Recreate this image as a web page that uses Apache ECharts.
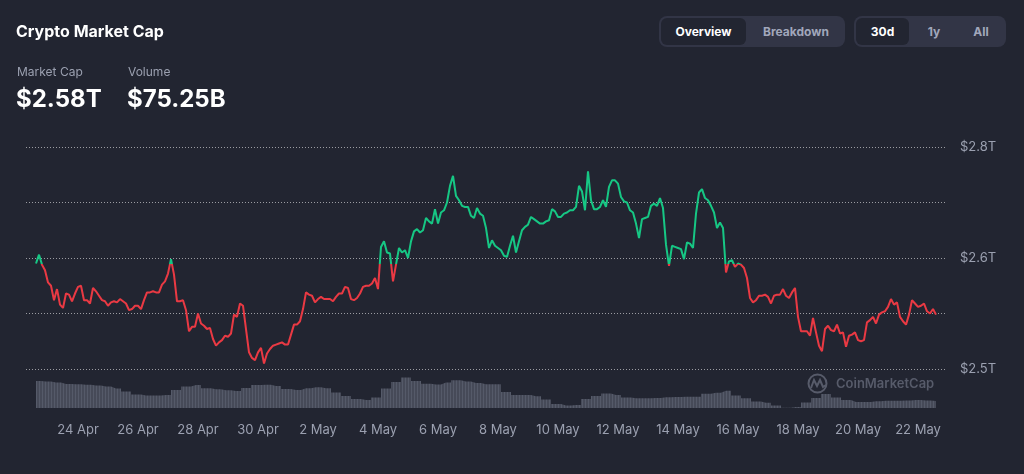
<!DOCTYPE html>
<html>
<head>
<meta charset="utf-8">
<script src="https://cdn.jsdelivr.net/npm/echarts@6/dist/echarts.min.js"></script>
<style>
  html, body { margin:0; padding:0; background:#222531; }
  #wrap { position:relative; width:1024px; height:474px; overflow:hidden; font-family:Inter, "Noto Sans", sans-serif; }
  #chart { position:absolute; left:0; top:0; width:1024px; height:474px; }
  .ov { position:absolute; z-index:2; white-space:nowrap; }
  .title { left:16px; top:21px; font-size:16px; font-weight:700; color:#fff; line-height:20px; }
  .lbl { top:64px; font-size:12px; color:#9ba0b0; line-height:15px; }
  .big { top:85px; font-size:24px; font-weight:700; color:#fff; line-height:28px; }
  .seg { position:absolute; z-index:2; top:16px; height:31px; background:#323546; border-radius:8px; }
  .btn { position:absolute; top:2px; height:27px; line-height:27px; text-align:center; font-size:12px; font-weight:700; color:#a1a7bb; border-radius:6px; }
  .btn.on { background:#222531; color:#fff; }
</style>
</head>
<body>
<div id="wrap">
  <div id="chart"></div>
  <div class="ov title">Crypto Market Cap</div>
  <div class="ov lbl" style="left:17px">Market Cap</div>
  <div class="ov lbl" style="left:128px">Volume</div>
  <div class="ov big" style="left:16px">$2.58T</div>
  <div class="ov big" style="left:127px">$75.25B</div>
  <div class="seg" style="left:659px; width:186px;">
    <div class="btn on" style="left:2px; width:85px;">Overview</div>
    <div class="btn" style="left:92px; width:90px;">Breakdown</div>
  </div>
  <div class="seg" style="left:854px; width:152px;">
    <div class="btn on" style="left:2px; width:53px;">30d</div>
    <div class="btn" style="left:58px; width:44px;">1y</div>
    <div class="btn" style="left:104px; width:46px;">All</div>
  </div>
</div>
<script>
// ---- data ----
// x positions are days relative to 24 Apr 00:00; samples every 2.4 h
const START_DAY = -1.4;
const STEP_DAY = 0.1;
const VOL_STEP_DAY = 1 / 3;

const dateLabels = ['24 Apr','26 Apr','28 Apr','30 Apr','2 May','4 May','6 May','8 May','10 May','12 May','14 May','16 May','18 May','20 May','22 May'];
const dateLabelDays = [0,2,4,6,8,10,12,14,16,18,20,22,24,26,28];

const yTickValues = [2500, 2550, 2600, 2650, 2700];
const yTickLabels = ['$2.5T', '', '$2.6T', '', '$2.8T'];

// total market cap, billions USD
const marketCap = [
  2595,2603,2594,2589,2578,2575,2562,2572,2558,2555,
  2568,2567,2561,2568,2574,2575,2562,2562,2559,2573,
  2570,2566,2562,2561,2557,2560,2561,2560,2563,2561,
  2559,2553,2554,2557,2557,2554,2562,2569,2569,2570,
  2569,2569,2576,2579,2586,2599,2585,2561,2561,2562,
  2553,2534,2538,2538,2550,2541,2539,2536,2537,2527,
  2521,2524,2526,2530,2529,2532,2549,2547,2559,2557,
  2536,2515,2510,2508,2515,2519,2505,2514,2518,2521,
  2522,2523,2524,2522,2522,2531,2540,2540,2543,2554,
  2569,2567,2566,2560,2563,2565,2563,2563,2563,2561,
  2565,2568,2568,2574,2573,2563,2562,2564,2568,2574,
  2575,2575,2577,2582,2572,2610,2615,2605,2604,2579,
  2594,2609,2605,2607,2600,2615,2624,2626,2623,2625,
  2636,2633,2631,2644,2631,2641,2643,2650,2665,2674,
  2656,2652,2647,2646,2646,2638,2636,2645,2640,2638,
  2627,2609,2616,2611,2609,2607,2602,2601,2611,2620,
  2605,2615,2625,2628,2630,2637,2635,2633,2631,2631,
  2633,2634,2644,2642,2637,2637,2640,2641,2643,2643,
  2646,2665,2660,2643,2678,2652,2644,2644,2646,2652,
  2646,2664,2670,2670,2667,2655,2651,2650,2643,2641,
  2631,2618,2635,2636,2637,2647,2649,2647,2654,2645,
  2612,2593,2611,2610,2609,2608,2599,2614,2613,2609,
  2640,2659,2662,2654,2652,2647,2641,2627,2632,2627,
  2587,2597,2598,2592,2595,2594,2591,2582,2564,2560,
  2562,2566,2566,2567,2565,2559,2566,2567,2567,2572,
  2566,2564,2569,2573,2547,2534,2534,2534,2530,2546,
  2533,2521,2516,2536,2539,2535,2534,2540,2532,2533,
  2520,2530,2531,2533,2526,2525,2526,2542,2544,2547,
  2541,2549,2551,2552,2556,2563,2558,2560,2547,2543,
  2540,2549,2562,2559,2556,2557,2559,2552,2550,2554,
  2549
];

// volume, billions USD, every 8 h
const volume = [
  97.5,96.3,93.8,90,89.3,88.3,86.3,83.8,78.8,71.3,
  63.8,61.3,61.3,62.5,75,83.8,87.5,79.3,76.8,74.3,
  72.5,80,87.5,88.3,85,77.5,75,79.5,81.8,79.5,
  68.8,60,52.5,50,56.3,78.8,95,106.3,97.5,90.8,
  88.8,93.8,99.3,96.3,92.5,89.3,89.5,70,62.5,62.5,
  59.3,51.3,40,36.3,37.5,52.5,60,66.3,62.5,56.3,
  54.3,54.3,55,56.8,57.5,58.3,58.3,65.5,68.3,73,
  61.3,54.5,46.3,43,36.3,30.8,32.5,43.8,55,65,
  56.3,50,45,45,46.8,48.3,48.3,48.8,50,48.8,
  47.5
];

const BASELINE = marketCap[0];
const X_MIN = -1.7333;
const X_MAX = 28.9;

const GREEN = '#16c784';
const RED = '#ea3943';
const AXIS_TEXT = '#9ba0b0';

const lineData = marketCap.map((v, i) => [START_DAY + i * STEP_DAY, v]);
const volData = volume.map((v, i) => [START_DAY + i * VOL_STEP_DAY, v]);

// striped fill for the volume strip
const stripe = document.createElement('canvas');
stripe.width = 3; stripe.height = 4;
const sctx = stripe.getContext('2d');
sctx.fillStyle = '#464a58'; sctx.fillRect(0, 0, 3, 4);
sctx.fillStyle = '#555a69'; sctx.fillRect(0, 0, 1, 4);

const chart = echarts.init(document.getElementById('chart'), null, { renderer: 'canvas' });
chart.setOption({
  backgroundColor: '#222531',
  animation: false,
  grid: [
    { left: 26, right: 79, top: 147, height: 222 },
    { left: 26, right: 79, top: 370, height: 38 }
  ],
  xAxis: [
    { gridIndex: 0, type: 'value', min: X_MIN, max: X_MAX,
      axisLine: { show: false }, axisTick: { show: false }, axisLabel: { show: false }, splitLine: { show: false } },
    { gridIndex: 1, type: 'value', min: X_MIN, max: X_MAX,
      axisLine: { show: false }, axisTick: { show: false }, splitLine: { show: false },
      axisLabel: {
        customValues: dateLabelDays,
        formatter: (v) => { const i = dateLabelDays.indexOf(Math.round(v)); return i >= 0 ? dateLabels[i] : ''; },
        color: AXIS_TEXT, fontSize: 13, fontFamily: 'Inter', margin: 16
      } }
  ],
  yAxis: [
    { gridIndex: 0, type: 'value', position: 'right', min: yTickValues[0], max: yTickValues[yTickValues.length - 1], interval: 50,
      axisLine: { show: false }, axisTick: { show: false },
      splitLine: { lineStyle: { type: [1, 2], color: 'rgba(255,255,255,0.55)', width: 1 } },
      axisLabel: {
        formatter: (v) => { const i = yTickValues.indexOf(Math.round(v)); return i >= 0 ? yTickLabels[i] : ''; },
        color: AXIS_TEXT, fontSize: 13, fontFamily: 'Inter', margin: 15
      } },
    { gridIndex: 1, type: 'value', min: 30, max: 125, show: false }
  ],
  series: [
    { type: 'line', xAxisIndex: 0, yAxisIndex: 0, data: lineData, showSymbol: false, symbol: 'none',
      lineStyle: { width: 2, color: RED }, z: 5 },
    { type: 'line', xAxisIndex: 1, yAxisIndex: 1, data: volData, step: 'middle', showSymbol: false, symbol: 'none',
      lineStyle: { width: 0, color: '#4a4f5e' },
      areaStyle: { color: { image: stripe, repeat: 'repeat' }, origin: 'start', opacity: 1 }, z: 2 }
  ],
  graphic: [
    { type: 'circle', shape: { cx: 817.5, cy: 383.5, r: 9 }, style: { fill: 'none', stroke: '#575b6a', lineWidth: 2 }, z: 10 },
    { type: 'polyline', shape: { points: [[811, 388], [814, 380], [817, 386], [820, 380], [823, 387], [826, 385]] },
      style: { stroke: '#575b6a', lineWidth: 2, fill: 'none' }, z: 10 },
    { type: 'text', x: 836, y: 384.5, style: { text: 'CoinMarketCap', fill: '#575b6a', font: '600 13px Inter', verticalAlign: 'middle' }, z: 10 }
  ]
});

// colour the line green above the opening value and red below it
const baseY = chart.convertToPixel({ yAxisIndex: 0 }, BASELINE);
const H = 474;
chart.setOption({
  series: [{
    lineStyle: {
      color: new echarts.graphic.LinearGradient(0, 0, 0, H, [
        { offset: 0, color: GREEN },
        { offset: baseY / H, color: GREEN },
        { offset: baseY / H, color: RED },
        { offset: 1, color: RED }
      ], true)
    }
  }]
});
</script>
</body>
</html>
